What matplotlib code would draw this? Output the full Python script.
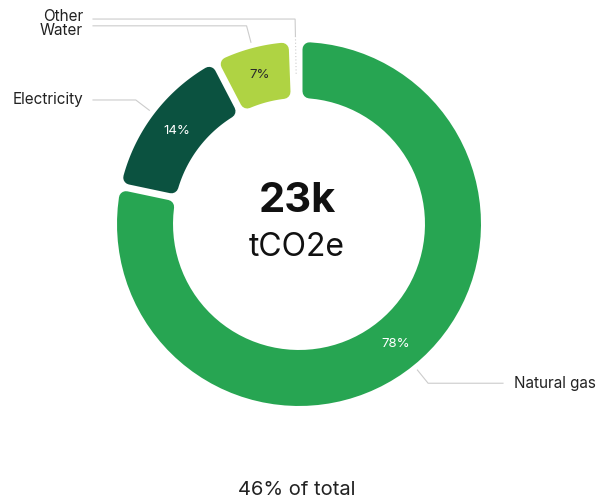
import numpy as np
import matplotlib
matplotlib.use('Agg')
import matplotlib.pyplot as plt
from matplotlib.path import Path
from matplotlib.patches import PathPatch

plt.rcParams['font.family'] = ['Inter', 'DejaVu Sans']

# emissions split by source (percent of site total)
sources = ['Natural gas', 'Electricity', 'Water', 'Other']
shares = [78.0, 14.0, 7.0, 0.6]
colors = ['#27a552', '#0b5240', '#afd343', '#7fc97f']
pct_colors = ['white', 'white', '#2b2b2b', '#2b2b2b']
total_label = '23k'
unit_label = 'tCO2e'
footer = '46% of total'

# ring geometry in pixel units
cx, cy = 299, 224
r_out, r_in = 182, 126
corner = 7      # rounded corner radius
gap = 7         # white gap between segments


def ring_segment(a1, a2, r0, r1, d):
    # a1 > a2 (clockwise); edges parallel to the bounding rays, inset by d
    pts = []
    for r, rev in ((r1, False), (r0, True)):
        off = np.arcsin(min(d / r, 1.0))
        s, e = a1 - off, a2 + off
        if s <= e:
            return None
        t = np.linspace(s, e, 80)
        if rev:
            t = t[::-1]
        pts.extend(zip(cx + r * np.cos(t), cy - r * np.sin(t)))
    pts.append(pts[0])
    codes = [Path.MOVETO] + [Path.LINETO] * (len(pts) - 2) + [Path.CLOSEPOLY]
    return Path(pts, codes)


fig = plt.figure(figsize=(5.98, 5.0), dpi=100)
ax = fig.add_axes([0, 0, 1, 1])
ax.set_xlim(0, 598)
ax.set_ylim(500, 0)
ax.axis('off')

vals = np.array(shares)
fr = vals / vals.sum()
edges = np.pi / 2 - 2 * np.pi * np.concatenate([[0], np.cumsum(fr)])
lw_pt = 2 * corner * 72 / fig.dpi

for i, name in enumerate(sources):
    a1, a2 = edges[i], edges[i + 1]
    p = ring_segment(a1, a2, r_in + corner, r_out - corner, gap / 2 + corner)
    if p is not None:
        ax.add_patch(PathPatch(p, facecolor=colors[i], edgecolor=colors[i],
                               lw=lw_pt, joinstyle='round'))
        mid = (a1 + a2) / 2
        rm = (r_in + r_out) / 2
        ax.text(cx + rm * np.cos(mid), cy - rm * np.sin(mid), '%d%%' % round(shares[i]),
                ha='center', va='center', fontsize=9.5, color=pct_colors[i])

# leader lines and source names
lc = '#cccccc'
r_a, r_b = 188, 205
label_side = {'Natural gas': 'right', 'Electricity': 'left', 'Water': 'left', 'Other': 'left'}
text_dy = {'Natural gas': 0, 'Electricity': 0, 'Water': 5, 'Other': -3}
for i, name in enumerate(sources):
    mid = (edges[i] + edges[i + 1]) / 2
    x0, y0 = cx + r_a * np.cos(mid), cy - r_a * np.sin(mid)
    x1, y1 = cx + r_b * np.cos(mid), cy - r_b * np.sin(mid)
    if label_side[name] == 'right':
        x2 = 503
        ax.text(514, y1 + text_dy[name], name, ha='left', va='center',
                fontsize=11, color='#222222')
    else:
        x2 = 93
        ax.text(83, y1 + text_dy[name], name, ha='right', va='center',
                fontsize=11, color='#222222')
    ax.plot([x0, x1, x2], [y0, y1, y1], color=lc, lw=0.8, solid_joinstyle='miter')
    if name == 'Other':
        r_c = 150
        ax.plot([x0, cx + r_c * np.cos(mid)], [y0, cy - r_c * np.sin(mid)],
                color=lc, lw=0.8, ls=(0, (1, 2)))

ax.text(cx - 2, 201, total_label, ha='center', va='center', fontsize=30,
        fontweight='bold', color='#111111')
ax.text(cx - 2, 248, unit_label, ha='center', va='center', fontsize=23,
        color='#111111')
ax.text(cx - 2, 490, footer, ha='center', va='center', fontsize=14.5,
        color='#222222')

fig.savefig('out.png', dpi=100)
